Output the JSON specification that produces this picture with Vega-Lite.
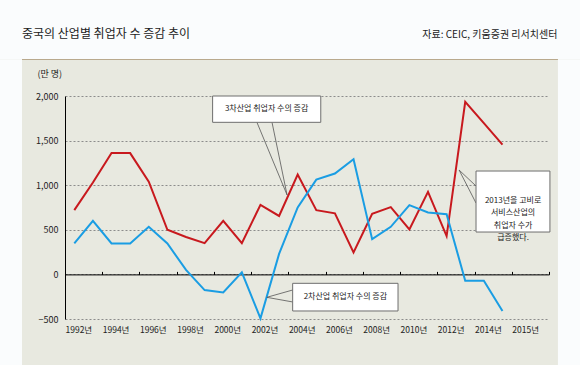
{
  "$schema": "https://vega.github.io/schema/vega-lite/v6.json",
  "width": 484,
  "height": 223,
  "autosize": {"type": "none"},
  "padding": {"left": 65, "top": 96, "right": 31, "bottom": 46},
  "background": "#e8e9e0",
  "config": {"font": "Noto Sans CJK KR", "view": {"stroke": null}},
  "resolve": {"axis": {"x": "independent", "y": "independent"}},
  "datasets": {
    "series": [
      {"year": 1992, "series": "3차산업", "value": 720},
      {"year": 1993, "series": "3차산업", "value": 1030},
      {"year": 1994, "series": "3차산업", "value": 1360},
      {"year": 1995, "series": "3차산업", "value": 1360},
      {"year": 1996, "series": "3차산업", "value": 1040},
      {"year": 1997, "series": "3차산업", "value": 500},
      {"year": 1998, "series": "3차산업", "value": 420},
      {"year": 1999, "series": "3차산업", "value": 350},
      {"year": 2000, "series": "3차산업", "value": 600},
      {"year": 2001, "series": "3차산업", "value": 350},
      {"year": 2002, "series": "3차산업", "value": 780},
      {"year": 2003, "series": "3차산업", "value": 655},
      {"year": 2004, "series": "3차산업", "value": 1120},
      {"year": 2005, "series": "3차산업", "value": 720},
      {"year": 2006, "series": "3차산업", "value": 685},
      {"year": 2007, "series": "3차산업", "value": 245},
      {"year": 2008, "series": "3차산업", "value": 680},
      {"year": 2009, "series": "3차산업", "value": 755},
      {"year": 2010, "series": "3차산업", "value": 505},
      {"year": 2011, "series": "3차산업", "value": 925},
      {"year": 2012, "series": "3차산업", "value": 430},
      {"year": 2013, "series": "3차산업", "value": 1935},
      {"year": 2014, "series": "3차산업", "value": 1695},
      {"year": 2015, "series": "3차산업", "value": 1455},
      {"year": 1992, "series": "2차산업", "value": 347},
      {"year": 1993, "series": "2차산업", "value": 600},
      {"year": 1994, "series": "2차산업", "value": 347},
      {"year": 1995, "series": "2차산업", "value": 347},
      {"year": 1996, "series": "2차산업", "value": 533},
      {"year": 1997, "series": "2차산업", "value": 347},
      {"year": 1998, "series": "2차산업", "value": 50},
      {"year": 1999, "series": "2차산업", "value": -176},
      {"year": 2000, "series": "2차산업", "value": -202},
      {"year": 2001, "series": "2차산업", "value": 22},
      {"year": 2002, "series": "2차산업", "value": -493},
      {"year": 2003, "series": "2차산업", "value": 230},
      {"year": 2004, "series": "2차산업", "value": 750},
      {"year": 2005, "series": "2차산업", "value": 1063},
      {"year": 2006, "series": "2차산업", "value": 1131},
      {"year": 2007, "series": "2차산업", "value": 1291},
      {"year": 2008, "series": "2차산업", "value": 395},
      {"year": 2009, "series": "2차산업", "value": 533},
      {"year": 2010, "series": "2차산업", "value": 776},
      {"year": 2011, "series": "2차산업", "value": 694},
      {"year": 2012, "series": "2차산업", "value": 675},
      {"year": 2013, "series": "2차산업", "value": -72},
      {"year": 2014, "series": "2차산업", "value": -72},
      {"year": 2015, "series": "2차산업", "value": -411}
    ],
    "boxes": [
      {"x": 1999.43, "x2": 2005.24, "y": 2000, "y2": 1705},
      {"x": 2003.73, "x2": 2009.39, "y": -100, "y2": -410},
      {"x": 2013.58, "x2": 2017.55, "y": 1159, "y2": 475}
    ],
    "pointers": [
      {"x": 2001.81, "y": 1705, "x2": 2003.43, "y2": 890},
      {"x": 2002.62, "y": 1705, "x2": 2003.43, "y2": 890},
      {"x": 2003.73, "y": -175, "x2": 2002.34, "y2": -257},
      {"x": 2003.73, "y": -309, "x2": 2002.34, "y2": -257},
      {"x": 2013.58, "y": 991, "x2": 2012.67, "y2": 1170},
      {"x": 2013.58, "y": 800, "x2": 2012.67, "y2": 1170}
    ],
    "notes": [
      {"x": 2002.33, "y": 1849, "label": "3차산업 취업자 수의 증감"},
      {"x": 2006.56, "y": -253, "label": "2차산업 취업자 수의 증감"},
      {"x": 2015.57, "y": 823, "label": "2013년을 고비로\n서비스산업의\n취업자 수가\n급증했다."}
    ]
  },
  "layer": [
    {
      "data": {"name": "series"},
      "mark": {"type": "line", "strokeWidth": 2},
      "encoding": {
        "x": {
          "field": "year",
          "type": "quantitative",
          "scale": {"domain": [1991.5, 2017.5], "nice": false, "zero": false},
          "axis": {
            "title": null,
            "values": [1991.5, 1993.5, 1995.5, 1997.5, 1999.5, 2001.5, 2003.5, 2005.5, 2007.5, 2009.5, 2011.5, 2013.5, 2015.5, 2017.5],
            "labelExpr": "datum.value == 2017.5 ? '' : (datum.value == 2015.5 ? '2015년' : (datum.value + 0.5) + '년')",
            "labelAlign": "left",
            "labelFontSize": 8.5,
            "labelColor": "#222222",
            "labelFlush": false,
            "labelOverlap": false,
            "labelBound": false,
            "tickSize": -3,
            "tickColor": "#000000",
            "domainColor": "#000000",
            "offset": -44.6,
            "labelPadding": 54,
            "grid": false
          }
        },
        "y": {
          "field": "value",
          "type": "quantitative",
          "scale": {"domain": [-500, 2000], "nice": false, "zero": false},
          "axis": {
            "title": "(만 명)",
            "titleAngle": 0,
            "titleAlign": "left",
            "titleBaseline": "middle",
            "titleX": -28,
            "titleY": -23,
            "titleFontSize": 9,
            "titleFontWeight": "normal",
            "titleColor": "#222222",
            "values": [-500, 0, 500, 1000, 1500, 2000],
            "labelExpr": "format(datum.value, ',')",
            "labelFontSize": 9,
            "labelColor": "#222222",
            "ticks": false,
            "labelPadding": 7,
            "domainColor": "#000000",
            "gridColor": "#8c8c8c",
            "gridDash": [2, 2],
            "gridWidth": 1
          }
        },
        "color": {
          "field": "series",
          "type": "nominal",
          "scale": {"domain": ["3차산업", "2차산업"], "range": ["#c8191e", "#1a9de3"]},
          "legend": null
        }
      }
    },
    {
      "data": {"values": [{}]},
      "mark": {"type": "rect", "fill": "#fafcfd"},
      "encoding": {
        "x": {"datum": 1980, "type": "quantitative", "axis": null},
        "x2": {"datum": 2030},
        "y": {"datum": 2409, "type": "quantitative", "axis": null},
        "y2": {"datum": 4000}
      }
    },
    {
      "data": {"values": [{}]},
      "mark": {"type": "rect", "fill": "#fafcfd"},
      "encoding": {
        "x": {"datum": 1980, "type": "quantitative", "axis": null},
        "x2": {"datum": 1989.19},
        "y": {"datum": 2409, "type": "quantitative", "axis": null},
        "y2": {"datum": -1500}
      }
    },
    {
      "data": {"values": [{}]},
      "mark": {"type": "rect", "fill": "#fafcfd"},
      "encoding": {
        "x": {"datum": 2017.98, "type": "quantitative", "axis": null},
        "x2": {"datum": 2030},
        "y": {"datum": 2409, "type": "quantitative", "axis": null},
        "y2": {"datum": -1500}
      }
    },
    {
      "data": {"values": [{}]},
      "mark": {"type": "rule", "color": "#b9a98d", "strokeWidth": 1.2},
      "encoding": {
        "x": {"datum": 1989.19, "type": "quantitative", "axis": null},
        "x2": {"datum": 2017.98},
        "y": {"datum": 2409, "type": "quantitative", "axis": null}
      }
    },
    {
      "data": {"name": "pointers"},
      "mark": {"type": "rule", "color": "#555555", "strokeWidth": 0.8},
      "encoding": {
        "x": {"field": "x", "type": "quantitative", "axis": null},
        "x2": {"field": "x2"},
        "y": {"field": "y", "type": "quantitative", "axis": null},
        "y2": {"field": "y2"}
      }
    },
    {
      "data": {"name": "boxes"},
      "mark": {"type": "rect", "fill": "#ffffff", "stroke": "#6e6e6e", "strokeWidth": 1},
      "encoding": {
        "x": {"field": "x", "type": "quantitative", "axis": null},
        "x2": {"field": "x2"},
        "y": {"field": "y", "type": "quantitative", "axis": null},
        "y2": {"field": "y2"}
      }
    },
    {
      "data": {"name": "notes"},
      "mark": {"type": "text", "fontSize": 8, "color": "#222222", "align": "center", "baseline": "middle", "lineBreak": "\n", "lineHeight": 12.5},
      "encoding": {
        "x": {"field": "x", "type": "quantitative", "axis": null},
        "y": {"field": "y", "type": "quantitative", "axis": null},
        "text": {"field": "label"}
      }
    },
    {
      "data": {"values": [{"label": "중국의 산업별 취업자 수 증감 추이"}]},
      "mark": {"type": "text", "fontSize": 12, "color": "#222222", "align": "left", "baseline": "alphabetic"},
      "encoding": {
        "x": {"datum": 1989.19, "type": "quantitative", "axis": null},
        "y": {"datum": 2650, "type": "quantitative", "axis": null},
        "text": {"field": "label"}
      }
    },
    {
      "data": {"values": [{"label": "자료: CEIC, 키움증권 리서치센터"}]},
      "mark": {"type": "text", "fontSize": 10, "color": "#222222", "align": "right", "baseline": "alphabetic"},
      "encoding": {
        "x": {"datum": 2017.95, "type": "quantitative", "axis": null},
        "y": {"datum": 2650, "type": "quantitative", "axis": null},
        "text": {"field": "label"}
      }
    }
  ]
}
